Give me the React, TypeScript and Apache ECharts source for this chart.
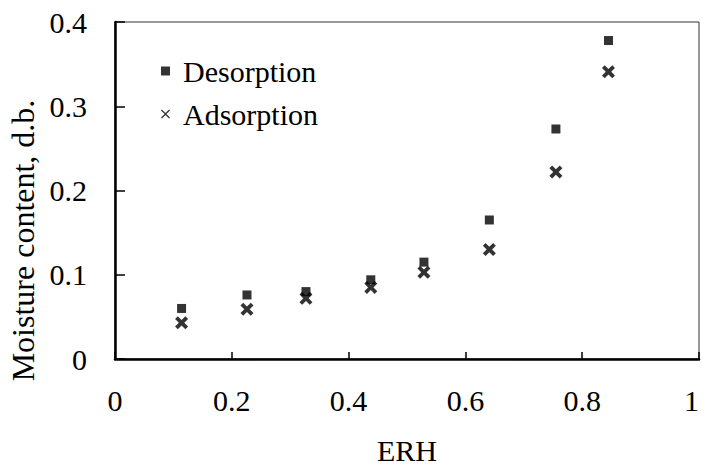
import React, { useEffect, useRef } from "react";
import * as echarts from "echarts";

const erh = [0.114, 0.226, 0.327, 0.438, 0.529, 0.641, 0.755, 0.845];
const desorption = [0.060, 0.076, 0.080, 0.094, 0.115, 0.165, 0.273, 0.378];
const adsorption = [0.043, 0.059, 0.072, 0.085, 0.103, 0.130, 0.222, 0.341];
const seriesNames = ["Desorption", "Adsorption"];

const FONT = "Liberation Serif";
const boldCross =
  "path://M0,2.5 L2.5,0 L6,3.5 L9.5,0 L12,2.5 L8.5,6 L12,9.5 L9.5,12 L6,8.5 L2.5,12 L0,9.5 L3.5,6 Z";
const thinCross =
  "path://M0,1 L1,0 L5,4 L9,0 L10,1 L6,5 L10,9 L9,10 L5,6 L1,10 L0,9 L4,5 Z";

export default function App() {
  const ref = useRef<HTMLDivElement>(null);
  useEffect(() => {
    if (!ref.current) return;
    const chart = echarts.init(ref.current, null, { renderer: "svg" });
    chart.setOption({
      animation: false,
      backgroundColor: "#ffffff",
      textStyle: { fontFamily: FONT, fontSize: 30, color: "#000" },
      grid: {
        left: 115,
        top: 22,
        right: 5,
        bottom: 106,
        outerBoundsMode: "none",
        containLabel: false,
        show: true,
        borderColor: "#333",
        borderWidth: 1,
      },
      legend: {
        orient: "vertical",
        left: 156,
        top: 51,
        itemWidth: 9,
        itemHeight: 9,
        itemGap: 13,
        textStyle: {
          fontFamily: FONT,
          fontSize: 30,
          color: "#000",
          padding: [0, 0, 0, 8],
        },
        data: [
          { name: seriesNames[0], icon: "rect" },
          { name: seriesNames[1], icon: thinCross },
        ],
      },
      xAxis: {
        type: "value",
        min: 0,
        max: 1,
        interval: 0.2,
        name: "ERH",
        nameLocation: "middle",
        nameGap: 76,
        nameTextStyle: { fontFamily: FONT, fontSize: 30, color: "#000" },
        axisLine: { show: true, lineStyle: { color: "#000", width: 2.5 } },
        axisTick: { show: true, inside: true, length: 7, lineStyle: { color: "#000", width: 1.5 } },
        axisLabel: {
          fontFamily: FONT,
          fontSize: 30,
          color: "#000",
          margin: 26,
          alignMaxLabel: "right",
          formatter: (v: number) => String(Math.round(v * 10) / 10),
        },
        splitLine: { show: false },
      },
      yAxis: {
        type: "value",
        min: 0,
        max: 0.4,
        interval: 0.1,
        name: "Moisture content, d.b.",
        nameLocation: "middle",
        nameGap: 60,
        nameTextStyle: {
          fontFamily: FONT,
          fontSize: 32,
          color: "#000",
          padding: [0, 100, 0, 0],
        },
        axisLine: { show: true, lineStyle: { color: "#000", width: 2.5 } },
        axisTick: { show: true, inside: true, length: 10, lineStyle: { color: "#000", width: 1.5 } },
        axisLabel: {
          fontFamily: FONT,
          fontSize: 30,
          color: "#000",
          margin: 28,
          formatter: (v: number) => String(Math.round(v * 10) / 10),
        },
        splitLine: { show: false },
      },
      series: [
        {
          name: seriesNames[0],
          type: "scatter",
          symbol: "rect",
          symbolSize: 9,
          itemStyle: { color: "#000" },
          data: erh.map((x, i) => [x, desorption[i]]),
        },
        {
          name: seriesNames[1],
          type: "scatter",
          symbol: boldCross,
          symbolSize: 13,
          itemStyle: { color: "#000" },
          data: erh.map((x, i) => [x, adsorption[i]]),
        },
      ],
    });
    return () => chart.dispose();
  }, []);
  return <div ref={ref} style={{ width: 704, height: 465, position: "absolute", left: 0, top: 0 }} />;
}
